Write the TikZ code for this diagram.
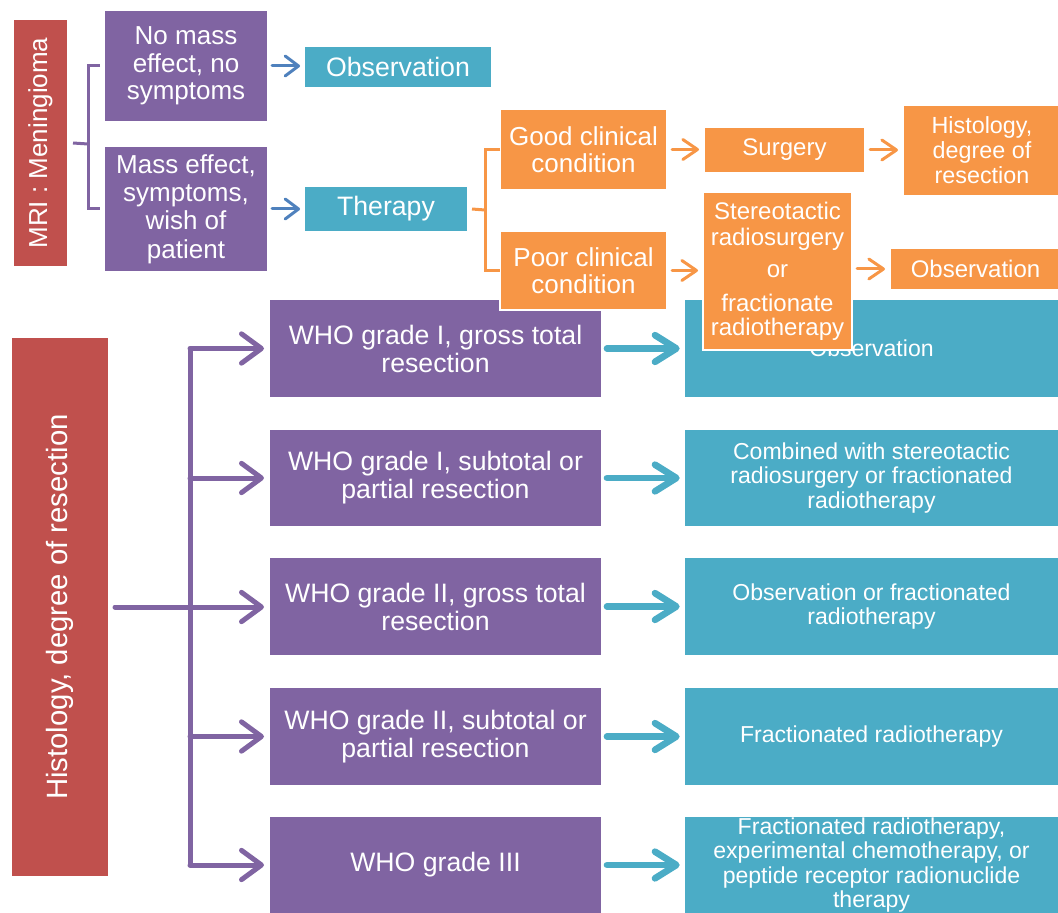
\documentclass[tikz,border=0pt]{standalone}
\usepackage{fontspec}
\setmainfont{Liberation Sans}
\usetikzlibrary{arrows.meta}
\definecolor{cpurple}{HTML}{8064A2}
\definecolor{cred}{HTML}{C0504D}
\definecolor{cteal}{HTML}{4BACC6}
\definecolor{corange}{HTML}{F79646}
\definecolor{cblue}{HTML}{4F81BD}
\newcommand\myfs[2]{\fontsize{#1}{#2}\selectfont}
\newcommand\bx[7]{\node[#6, minimum width={(#4-#2)*0.75pt}, minimum height={(#5-#3)*0.75pt}] (#1) at ({(#2+#4)/2},{(#3+#5)/2}) {#7};}
\tikzset{
  box/.style={rectangle, inner sep=0pt, outer sep=0pt, align=center, text=white},
  pbox/.style={box, fill=cpurple},
  rbox/.style={box, fill=cred},
  tbox/.style={box, fill=cteal},
  obox/.style={box, fill=corange, draw=white, line width=1.5pt},
  topfont/.style={font=\myfs{19.5}{20.8}},
  gfont/.style={font=\myfs{20}{21}},
  tfont/.style={font=\myfs{17.3}{18.4}},
  bluearr/.style={draw=cblue, line width=2.25pt, -{Straight Barb[length=10pt,width=15pt,round]}, line cap=round, shorten <=3.75pt, shorten >=3.75pt},
  orarr/.style={draw=corange, line width=2.25pt, -{Straight Barb[length=11pt,width=15pt,round]}, line cap=round, shorten <=3.75pt, shorten >=3.75pt},
  pbr/.style={draw=cpurple, line width=2.25pt},
  obr/.style={draw=corange, line width=2.25pt},
  parr/.style={draw=cpurple, line width=3.75pt, -{Straight Barb[length=15pt,width=22pt,round]}, line cap=round, shorten >=4.5pt},
  tarr/.style={draw=cteal, line width=5pt, -{Straight Barb[length=16pt,width=20pt,round]}, line cap=round, shorten <=4.5pt, shorten >=4pt},
}
\begin{document}
\begin{tikzpicture}[x=0.75pt, y=-0.75pt]
\useasboundingbox (0,0) rectangle (1058,913);
% ---------- bottom section ----------
\bx{hist}{12}{338}{108}{876}{rbox}{\rotatebox{90}{\myfs{22}{24}Histology, degree of resection}}
\bx{g1}{270}{300}{601}{397}{pbox,gfont}{WHO grade I, gross total\\resection}
\bx{g2}{270}{430}{601}{526}{pbox,gfont}{WHO grade I, subtotal or\\partial resection}
\bx{g3}{270}{558}{601}{655}{pbox,gfont}{WHO grade II, gross total\\resection}
\bx{g4}{270}{688}{601}{785}{pbox,gfont}{WHO grade II, subtotal or\\partial resection}
\bx{g5}{270}{817}{601}{913}{pbox,gfont}{WHO grade III}
\bx{t1}{685}{300}{1058}{397}{tbox,tfont}{Observation}
\bx{t2}{685}{430}{1058}{526}{tbox,tfont}{Combined with stereotactic\\radiosurgery or fractionated\\radiotherapy}
\bx{t3}{685}{558}{1058}{655}{tbox,tfont}{Observation or fractionated\\radiotherapy}
\bx{t4}{685}{688}{1058}{785}{tbox,tfont}{Fractionated radiotherapy}
\bx{t5}{685}{817}{1058}{913}{tbox,tfont}{Fractionated radiotherapy,\\experimental chemotherapy, or\\peptide receptor radionuclide\\therapy}
\coordinate (tr) at (190,607);
\draw[pbr, line width=3.75pt] (g1.west -| tr) -- (g5.west -| tr);
\draw[parr, shorten <=5.25pt] (hist.east) -- (hist.east -| g3.west);
\foreach \i in {1,2,4,5}{\draw[parr] (g\i.west -| tr) -- (g\i.west);}
\foreach \i in {1,...,5}{\draw[tarr] (g\i.east) -- (g\i.east -| t\i.west);}
% ---------- top section ----------
\bx{mri}{14}{20}{67}{266}{rbox}{\rotatebox{90}{\myfs{19.5}{21}MRI : Meningioma}}
\bx{nomass}{105}{11}{267}{121}{pbox,topfont}{No mass\\effect, no\\symptoms}
\bx{mass}{105}{147}{267}{271}{pbox,font=\myfs{19.5}{21.2}}{Mass effect,\\symptoms,\\wish of\\patient}
\bx{obs}{305}{47}{491}{87}{tbox,font=\myfs{20}{21}}{Observation}
\bx{therapy}{305}{187}{467}{231}{tbox,font=\myfs{20}{21}}{Therapy}
\coordinate (mj) at (88,144);
\draw[pbr] ([xshift=4.5pt]mri.east) -- (mj);
\draw[pbr] ([xshift=-3.75pt]nomass.west) -| (mj) |- ([xshift=-3.75pt]mass.west);
\draw[bluearr] (nomass.east) -- (nomass.east -| obs.west);
\draw[bluearr] (mass.east) -- (mass.east -| therapy.west);
\bx{good}{500}{109}{667}{190}{obox,font=\myfs{19.5}{20.3}}{Good clinical\\condition}
\bx{poor}{500}{231}{667}{310}{obox,font=\myfs{19.5}{20.3}}{Poor clinical\\condition}
\bx{surgery}{704}{127}{865}{173}{obox,font=\myfs{18}{20}}{Surgery}
\bx{histo}{903}{105}{1061}{196}{obox,font=\myfs{17.5}{18.8}}{Histology,\\degree of\\resection}
\bx{stereo}{703}{192}{852}{350}{obox,font=\myfs{18}{20}}{Stereotactic\\radiosurgery\\[4pt]or\\[5pt]fractionate\\[-2pt]radiotherapy}
\bx{obs2}{890}{248}{1061}{290}{obox,font=\myfs{18}{20}}{Observation}
\coordinate (oj) at (485,210);
\draw[obr] ([xshift=3.75pt]therapy.east) -- (oj);
\draw[obr] (good.west) -| (oj) |- (poor.west);
\draw[orarr] (good.east) -- (good.east -| surgery.west);
\draw[orarr] (surgery.east) -- (surgery.east -| histo.west);
\draw[orarr] (poor.east) -- (poor.east -| stereo.west);
\draw[orarr] (stereo.east |- obs2.west) -- (obs2.west);
\end{tikzpicture}
\end{document}
